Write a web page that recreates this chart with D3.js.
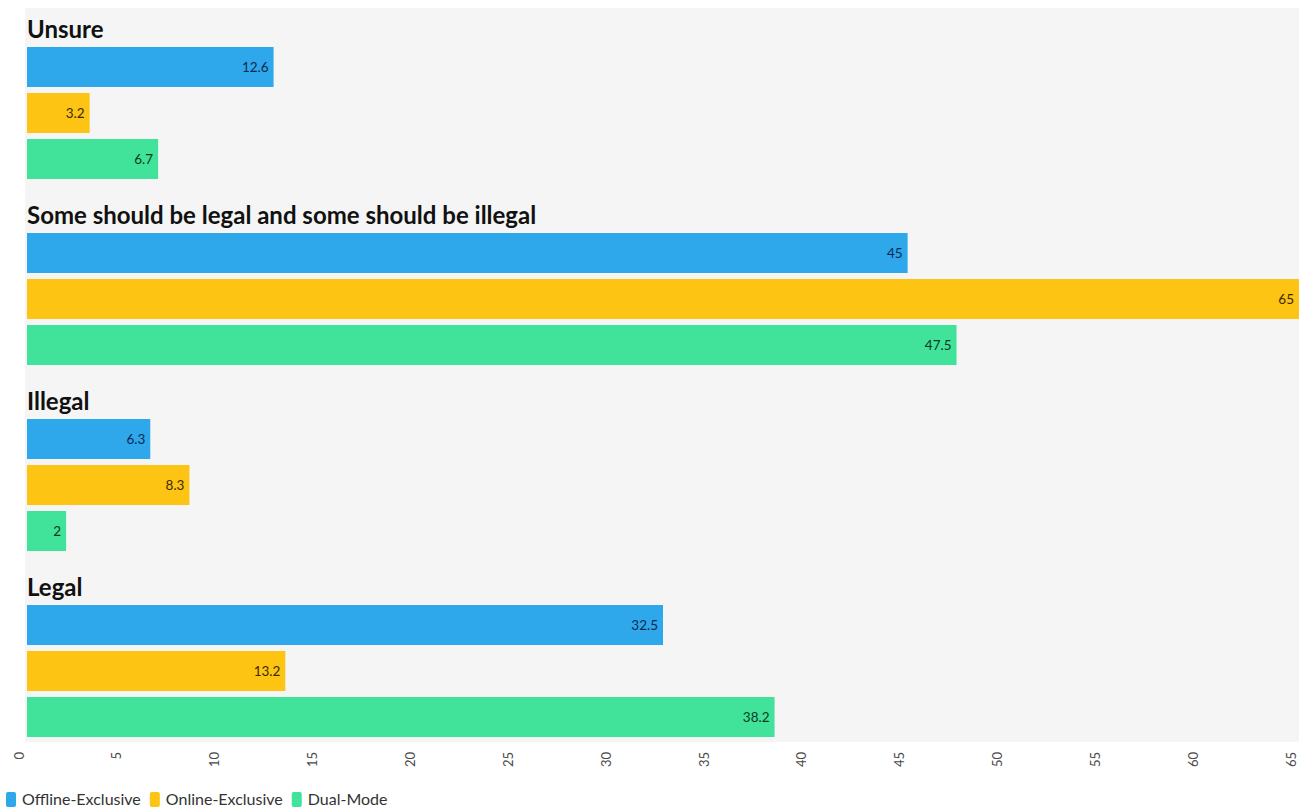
<!DOCTYPE html>
<html>
<head>
<meta charset="utf-8">
<script src="https://cdn.jsdelivr.net/npm/d3@7"></script>
<style>
  html, body { margin: 0; padding: 0; background: #ffffff; }
  svg { display: block; font-family: Lato, "Noto Sans", sans-serif; }
</style>
</head>
<body>
<svg id="chart" width="1299" height="811"></svg>
<script>
// ---- data ----
const categories = ["Unsure", "Some should be legal and some should be illegal", "Illegal", "Legal"];
const seriesNames = ["Offline-Exclusive", "Online-Exclusive", "Dual-Mode"];
const offlineExclusive = [12.6, 45, 6.3, 32.5];
const onlineExclusive = [3.2, 65, 8.3, 13.2];
const dualMode = [6.7, 47.5, 2, 38.2];
const tickValues = [0, 5, 10, 15, 20, 25, 30, 35, 40, 45, 50, 55, 60, 65];
const colors = ["#2ea7eb", "#fdc414", "#41e29a"];
const labelColors = ["#0d2a55", "#3b2a00", "#0b3a22"];

const seriesValues = [offlineExclusive, onlineExclusive, dualMode];
const rows = categories.map((c, i) => ({
  category: c,
  values: seriesNames.map((s, j) => ({ series: s, idx: j, value: seriesValues[j][i] }))
}));

const svg = d3.select("#chart");
const plotLeft = 27, plotRight = 1299;

// background panel
svg.append("rect")
  .attr("x", 25).attr("y", 8)
  .attr("width", 1299 - 25).attr("height", 742 - 8)
  .attr("fill", "#f5f5f5");

const x = d3.scaleLinear().domain([0, 65]).range([plotLeft, plotRight]);
const y0 = d3.scaleBand().domain(categories).range([20, 20 + 4 * 186]).paddingInner(0).paddingOuter(0);
const y1 = d3.scaleBand().domain(seriesNames).range([27, 27 + 132]).paddingInner(6 / 46).paddingOuter(0);
const color = d3.scaleOrdinal().domain(seriesNames).range(colors);
const lcolor = d3.scaleOrdinal().domain(seriesNames).range(labelColors);

const groups = svg.selectAll("g.group")
  .data(rows)
  .join("g")
  .attr("class", "group")
  .attr("transform", d => `translate(0,${y0(d.category)})`);

groups.append("text")
  .attr("x", plotLeft)
  .attr("y", 18)
  .attr("font-size", 24)
  .attr("font-weight", 700)
  .attr("fill", "#111")
  .text(d => d.category);

groups.selectAll("rect.bar")
  .data(d => d.values)
  .join("rect")
  .attr("class", "bar")
  .attr("x", x(0))
  .attr("y", d => y1(d.series))
  .attr("width", d => x(d.value) - x(0))
  .attr("height", y1.bandwidth())
  .attr("fill", d => color(d.series));

groups.selectAll("text.val")
  .data(d => d.values)
  .join("text")
  .attr("class", "val")
  .attr("x", d => x(d.value) - 5)
  .attr("y", d => y1(d.series) + y1.bandwidth() / 2)
  .attr("dy", "0.35em")
  .attr("text-anchor", "end")
  .attr("font-size", 13.5)
  .attr("fill", d => lcolor(d.series))
  .text(d => d.value);

// x axis
const axis = svg.append("g")
  .attr("transform", "translate(0,742)")
  .call(d3.axisBottom(x).tickValues(tickValues).tickSize(0).tickFormat(d3.format("d")));
axis.select(".domain").remove();
axis.selectAll("text")
  .attr("transform", "rotate(-90)")
  .attr("x", -10)
  .attr("y", 0)
  .attr("dy", "-0.3em")
  .attr("text-anchor", "end")
  .attr("font-size", 13)
  .attr("font-family", "Lato, sans-serif")
  .attr("fill", "#4a4a4a");

// legend
const legend = svg.append("g").attr("transform", "translate(6,792)");
let lx = 0;
seriesNames.forEach((s, i) => {
  const g = legend.append("g").attr("transform", `translate(${lx},0)`);
  g.append("rect").attr("width", 10).attr("height", 15).attr("rx", 2).attr("fill", color(s));
  const t = g.append("text").attr("x", 16).attr("y", 7.5).attr("dy", "0.35em")
    .attr("font-size", 16).attr("fill", "#333").text(s);
  lx += 16 + t.node().getComputedTextLength() + 9;
});
</script>
</body>
</html>
